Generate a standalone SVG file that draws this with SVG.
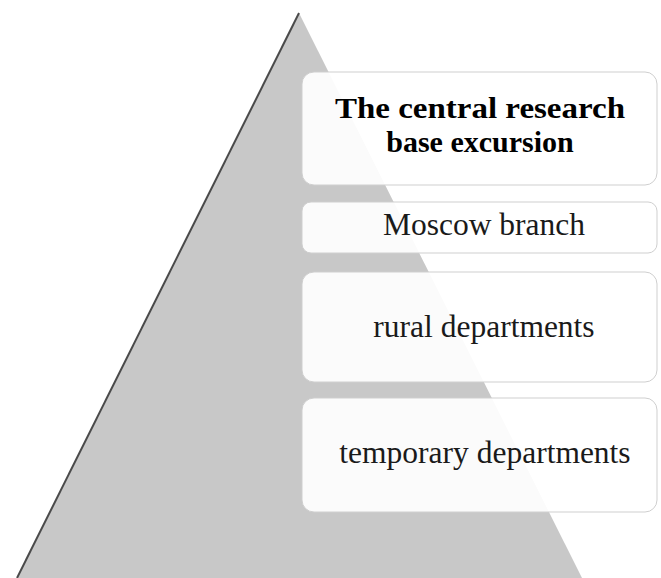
<svg xmlns="http://www.w3.org/2000/svg" width="661" height="578" viewBox="0 0 661 578">
<style>
.box{fill:#ffffff;fill-opacity:0.92;stroke:#cfcfcf;stroke-width:1}
.t{font-family:"Liberation Serif","Times New Roman",serif;fill:#1a1a1a;text-anchor:middle}
.b{font-weight:bold;font-size:30px;fill:#000}
.n{font-size:31.5px}
</style>
<rect width="661" height="578" fill="#ffffff"/>
<g id="pyramid">
<polygon points="299,13 17,578 582,578" fill="#c8c8c8"/>
<line x1="299" y1="13" x2="17" y2="578" stroke="#4a4a4a" stroke-width="2"/>
</g>
<g id="node1">
<rect class="box" x="302" y="72" width="355" height="113" rx="12"/>
<text class="t b" x="480" y="118" textLength="290" lengthAdjust="spacingAndGlyphs">The central research</text>
<text class="t b" x="480" y="152">base excursion</text>
</g>
<g id="node2">
<rect class="box" x="302" y="202" width="355" height="51" rx="9"/>
<text class="t n" x="484" y="235">Moscow branch</text>
</g>
<g id="node3">
<rect class="box" x="302" y="272" width="355" height="110" rx="12"/>
<text class="t n" x="484" y="337">rural departments</text>
</g>
<g id="node4">
<rect class="box" x="302" y="398" width="355" height="114" rx="12"/>
<text class="t n" x="485" y="463">temporary departments</text>
</g>
<g id="connectors"></g>
</svg>
